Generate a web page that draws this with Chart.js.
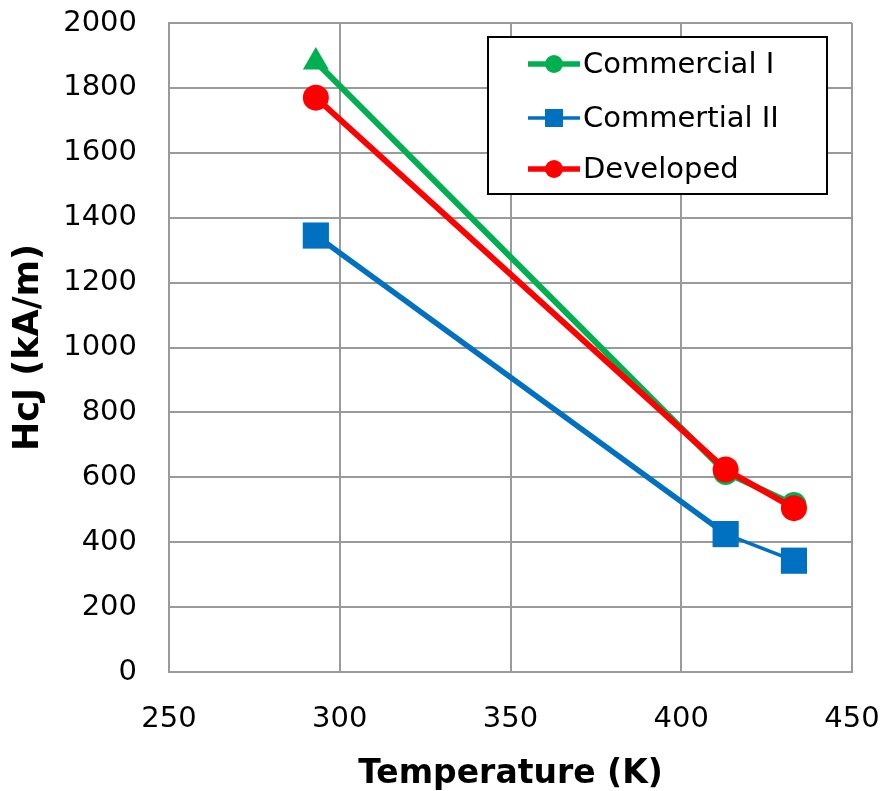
<!DOCTYPE html>
<html>
<head>
<meta charset="utf-8">
<script src="https://cdn.jsdelivr.net/npm/chart.js@4/dist/chart.umd.min.js"></script>
<style>
  html, body { margin: 0; padding: 0; background: #fff; }
  #wrap { width: 884px; height: 791px; }
</style>
</head>
<body>
<div id="wrap"><canvas id="hcjChart" width="884" height="791"></canvas></div>
<script>
// Data
const temperatures = [293, 413, 433];
const commercialI = [1880, 615, 516];
const commertialII = [1345, 425, 343];
const developed = [1770, 624, 505];
const xTicks = [250, 300, 350, 400, 450];
const yTicks = [0, 200, 400, 600, 800, 1000, 1200, 1400, 1600, 1800, 2000];

const GREEN = '#00b050';
const BLUE = '#0070c0';
const RED = '#ff0000';
const GRID = '#9a9a9a';

const toPoints = vals => vals.map((v, i) => ({ x: temperatures[i], y: v }));

// Legend in a framed box inside the plot, like the spreadsheet original
const boxLegend = {
  id: 'boxLegend',
  afterDatasetsDraw(chart) {
    const ctx = chart.ctx;
    const area = chart.chartArea;
    const left = area.right - 364, top = area.top + 14;
    const w = 339, h = 157;
    ctx.save();
    ctx.fillStyle = '#fff';
    ctx.fillRect(left, top, w, h);
    ctx.strokeStyle = '#000';
    ctx.lineWidth = 2;
    ctx.strokeRect(left, top, w, h);

    const rows = [27, 81, 132];
    chart.data.datasets.forEach((ds, i) => {
      const y = top + rows[i];
      const x0 = left + 40, x1 = left + 92, xm = (x0 + x1) / 2;
      ctx.strokeStyle = ds.borderColor;
      ctx.lineWidth = ds.legendLine;
      ctx.beginPath();
      ctx.moveTo(x0, y);
      ctx.lineTo(x1, y);
      ctx.stroke();
      ctx.fillStyle = ds.borderColor;
      if (ds.legendMarker === 'rect') {
        ctx.fillRect(xm - 9, y - 9, 18, 18);
      } else {
        ctx.beginPath();
        ctx.arc(xm, y, 9, 0, Math.PI * 2);
        ctx.fill();
      }
      ctx.fillStyle = '#000';
      ctx.font = '29px "DejaVu Sans"';
      ctx.textAlign = 'left';
      ctx.textBaseline = 'middle';
      ctx.fillText(ds.label, x1 + 3, y + 1);
    });
    ctx.restore();
  }
};

const ctx = document.getElementById('hcjChart').getContext('2d');

new Chart(ctx, {
  type: 'line',
  data: {
    datasets: [
      {
        label: 'Commercial I',
        data: toPoints(commercialI),
        borderColor: GREEN,
        backgroundColor: GREEN,
        borderWidth: 6,
        pointStyle: ['triangle', 'circle', 'circle'],
        pointRadius: [15, 12.5, 12.5],
        pointBorderWidth: 0,
        legendMarker: 'circle',
        legendLine: 5.5,
        order: 2
      },
      {
        label: 'Commertial II',
        data: toPoints(commertialII),
        borderColor: BLUE,
        backgroundColor: BLUE,
        borderWidth: 5.5,
        segment: { borderWidth: c => (c.p0DataIndex === 1 ? 3.5 : 5.5) },
        pointStyle: 'rect',
        pointRadius: 18.5,
        pointBorderWidth: 0,
        legendMarker: 'rect',
        legendLine: 3.5,
        order: 1
      },
      {
        label: 'Developed',
        data: toPoints(developed),
        borderColor: RED,
        backgroundColor: RED,
        borderWidth: 6,
        pointStyle: 'circle',
        pointRadius: 13,
        pointBorderWidth: 0,
        legendMarker: 'circle',
        legendLine: 5.5,
        order: 0
      }
    ]
  },
  options: {
    responsive: false,
    animation: false,
    layout: { padding: { left: 0, right: 32, top: 23, bottom: 0 } },
    plugins: {
      legend: { display: false },
      tooltip: { enabled: false }
    },
    elements: { line: { tension: 0 } },
    scales: {
      x: {
        type: 'linear',
        min: xTicks[0],
        max: xTicks[xTicks.length - 1],
        afterBuildTicks: s => { s.ticks = xTicks.map(v => ({ value: v })); },
        afterFit: s => { s.height = 119; s.paddingLeft = 0; s.paddingRight = 0; },
        grid: { color: GRID, lineWidth: 2, drawTicks: false },
        border: { color: GRID, width: 2 },
        ticks: {
          color: '#000',
          padding: 30,
          callback: v => String(v),
          font: { family: 'DejaVu Sans', size: 29 }
        },
        title: {
          display: true,
          text: 'Temperature (K)',
          color: '#000',
          padding: { top: 0, bottom: 0 },
          font: { family: 'DejaVu Sans', size: 33, weight: 'bold', lineHeight: 1 }
        }
      },
      y: {
        type: 'linear',
        min: yTicks[0],
        max: yTicks[yTicks.length - 1],
        afterBuildTicks: s => { s.ticks = yTicks.map(v => ({ value: v })); },
        afterFit: s => { s.width = 169; s.paddingTop = 0; s.paddingBottom = 0; },
        grid: { color: GRID, lineWidth: 2, drawTicks: false },
        border: { color: GRID, width: 2 },
        ticks: {
          color: '#000',
          padding: 32,
          callback: v => String(v),
          font: { family: 'DejaVu Sans', size: 29 }
        },
        title: {
          display: true,
          text: 'HcJ (kA/m)',
          color: '#000',
          padding: { top: 11, bottom: 0 },
          font: { family: 'DejaVu Sans', size: 35, weight: 'bold', lineHeight: 1 }
        }
      }
    }
  },
  plugins: [boxLegend]
});
</script>
</body>
</html>
